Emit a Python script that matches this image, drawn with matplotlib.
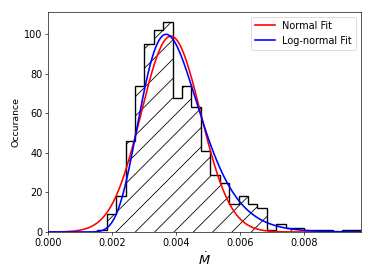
import numpy as np
import matplotlib
matplotlib.use("Agg")
import matplotlib.pyplot as plt

# Histogram data
bin_start = 0.00154
bin_end = 0.00978
counts = [1, 9, 18, 46, 74, 95, 102, 106, 68, 74, 63, 41, 29, 25,
          14, 18, 14, 12, 1, 4, 2, 2, 1, 1, 1, 0, 1, 1]

# Fit parameters
normal_mu = 0.00384
normal_sigma = 0.00093
normal_area = 0.231

lognorm_s = 0.25
lognorm_mode = 0.00369
lognorm_area = 0.2386

x_ticks = [0.000, 0.002, 0.004, 0.006, 0.008]
y_ticks = [0, 20, 40, 60, 80, 100]

dpi = 58.4
fig = plt.figure(figsize=(374 / dpi, 280 / dpi), dpi=dpi)
ax = fig.add_axes([48 / 374, 48 / 280, (361 - 48) / 374, (232 - 12) / 280])

edges = np.linspace(bin_start, bin_end, len(counts) + 1)
ax.hist(edges[:-1], bins=edges, weights=counts, histtype='step',
        hatch='/', edgecolor='black', linewidth=1.7)

x = np.linspace(1e-6, bin_end, 600)
normal_curve = normal_area / (normal_sigma * np.sqrt(2 * np.pi)) * \
    np.exp(-0.5 * ((x - normal_mu) / normal_sigma) ** 2)
lmu = np.log(lognorm_mode) + lognorm_s ** 2
lognorm_curve = lognorm_area / (x * lognorm_s * np.sqrt(2 * np.pi)) * \
    np.exp(-((np.log(x) - lmu) ** 2) / (2 * lognorm_s ** 2))

ax.plot(x, normal_curve, color='red', linewidth=2, label='Normal Fit')
ax.plot(x, lognorm_curve, color='blue', linewidth=2, label='Log-normal Fit')

ax.set_xlim(0, bin_end)
ax.set_ylim(0, 111.3)
ax.set_xticks(x_ticks)
ax.set_xticklabels([f"{v:.3f}" for v in x_ticks])
ax.set_yticks(y_ticks)
ax.tick_params(labelsize=12)
ax.set_xlabel(r'$\dot{M}$', fontsize=16)
ax.set_ylabel('Occurance', fontsize=11.5)
ax.legend(loc='upper right', fontsize=12)

fig.savefig('out.png', dpi=dpi)
